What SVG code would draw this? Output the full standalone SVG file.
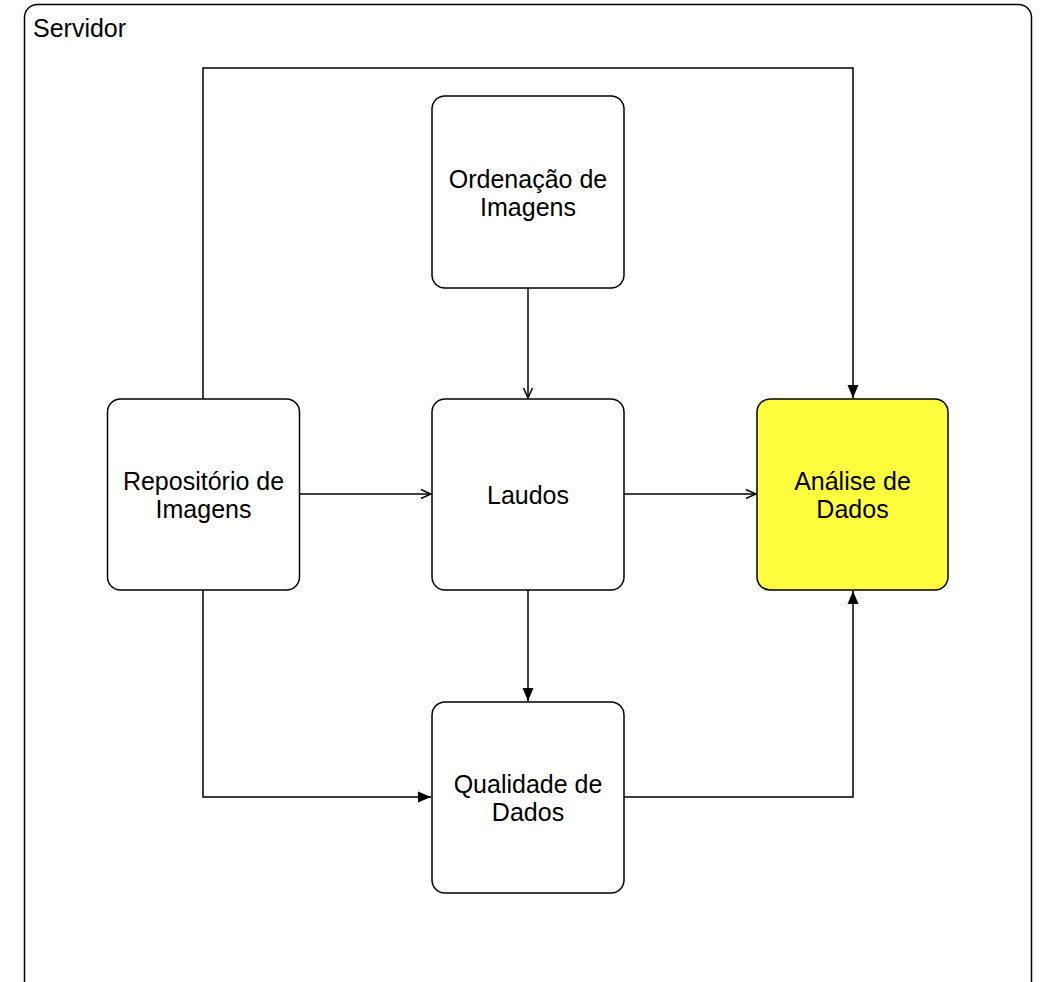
<svg xmlns="http://www.w3.org/2000/svg" width="1041" height="982" viewBox="0 0 1041 982">
<style>
.box{fill:#fff;stroke:#000;stroke-width:1.5}
.hl{fill:#ffff3f}
.t{font-family:"Liberation Sans",Arial,sans-serif;font-size:25px;fill:#000;text-anchor:middle;dominant-baseline:central}
.e{fill:none;stroke:#000;stroke-width:1.5}
</style>
<defs>
<marker id="open" viewBox="0 0 12 12" refX="11" refY="6" markerWidth="12" markerHeight="12" markerUnits="userSpaceOnUse" orient="auto">
<path d="M1,1.5 L11,6 L1,10.5" fill="none" stroke="#000" stroke-width="1.5"/>
</marker>
<marker id="fill" viewBox="0 0 14 12" refX="13" refY="6" markerWidth="14" markerHeight="12" markerUnits="userSpaceOnUse" orient="auto">
<path d="M0,0.5 L13,6 L0,11.5 Z" fill="#000"/>
</marker>
</defs>
<g id="servidor">
<rect x="24.5" y="4.5" width="1007" height="990" rx="13" fill="#fff" stroke="#000" stroke-width="1.5"/>
<text x="33" y="28" font-family="'Liberation Sans',Arial,sans-serif" font-size="25" dominant-baseline="central">Servidor</text>
</g>
<g id="connectors">
<path class="e" d="M203,399 V68 H853 V398" marker-end="url(#fill)"/>
<path class="e" d="M528,288 V398" marker-end="url(#open)"/>
<path class="e" d="M299,494 H431" marker-end="url(#open)"/>
<path class="e" d="M624,494 H756" marker-end="url(#open)"/>
<path class="e" d="M528,590 V701" marker-end="url(#fill)"/>
<path class="e" d="M203,590 V797 H431" marker-end="url(#fill)"/>
<path class="e" d="M624,797 H853 V591" marker-end="url(#fill)"/>
</g>
<g id="ordenacao">
<rect class="box" x="432" y="96" width="192" height="192" rx="13"/>
<text class="t" x="528" y="179">Ordenação de</text>
<text class="t" x="528" y="207">Imagens</text>
</g>
<g id="repositorio">
<rect class="box" x="107.5" y="399" width="192" height="191" rx="13"/>
<text class="t" x="203.5" y="481">Repositório de</text>
<text class="t" x="203.5" y="509">Imagens</text>
</g>
<g id="laudos">
<rect class="box" x="432" y="399" width="192" height="191" rx="13"/>
<text class="t" x="528" y="495">Laudos</text>
</g>
<g id="analise">
<rect class="box hl" x="757" y="399" width="191" height="191" rx="13"/>
<text class="t" x="852.5" y="481">Análise de</text>
<text class="t" x="852.5" y="509">Dados</text>
</g>
<g id="qualidade">
<rect class="box" x="432" y="702" width="192" height="191" rx="13"/>
<text class="t" x="528" y="784">Qualidade de</text>
<text class="t" x="528" y="812">Dados</text>
</g>
</svg>
